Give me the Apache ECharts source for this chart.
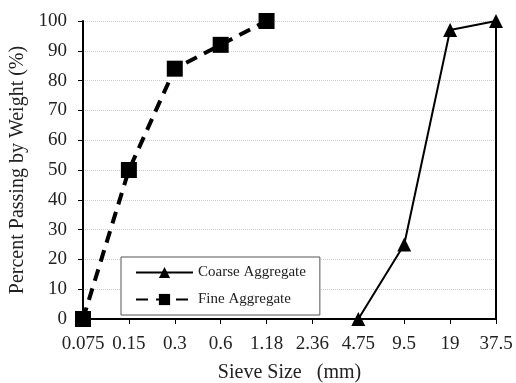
<!DOCTYPE html>
<html><head><meta charset="utf-8">
<script src="https://cdn.jsdelivr.net/npm/echarts@6/dist/echarts.min.js"></script>
<style>html,body{margin:0;padding:0;background:#fff}#c{width:516px;height:383px}</style>
</head><body><div id="c"></div>
<script>
const sieveSizes = ['0.075','0.15','0.3','0.6','1.18','2.36','4.75','9.5','19','37.5'];
const fineAggregate = [0, 50, 84, 92, 100, null, null, null, null, null];
const coarseAggregate = [null, null, null, null, null, null, 0, 25, 97, 100];
const yTicks = [0,10,20,30,40,50,60,70,80,90,100];

const F = 'Liberation Serif';
const chart = echarts.init(document.getElementById('c'), null, {renderer:'canvas'});
chart.setOption({
  animation:false,
  textStyle:{fontFamily:F},
  grid:{left:83, right:20, top:21, bottom:64, show:false, containLabel:false, outerBoundsMode:'none'},
  legend:{
    orient:'vertical', left:121, top:257,
    padding:[8,14,8,14], itemGap:12,
    itemWidth:57, itemHeight:14,
    borderColor:'#555', borderWidth:1, backgroundColor:'#fff', borderRadius:0,
    textStyle:{fontFamily:F, fontSize:15, color:'#222'},
    data:['Coarse Aggregate','Fine Aggregate']
  },
  xAxis:[{
    type:'category', data:sieveSizes, boundaryGap:false,
    name:'Sieve Size   (mm)', nameLocation:'middle', nameGap:44,
    nameTextStyle:{fontFamily:F, fontSize:20, color:'#222'},
    axisLine:{lineStyle:{color:'#000', width:2}},
    axisTick:{show:true, length:5, interval:0, lineStyle:{color:'#000'}},
    axisLabel:{fontFamily:F, fontSize:19, color:'#222', margin:16, interval:0, hideOverlap:false},
    splitLine:{show:false}
  },{
    type:'category', data:sieveSizes, boundaryGap:false, position:'top',
    axisLine:{show:true, lineStyle:{color:'#000', width:2}},
    axisTick:{show:false}, axisLabel:{show:false}, splitLine:{show:false}
  }],
  yAxis:[{
    type:'value', min:0, max:100, interval:10,
    name:'Percent Passing by Weight (%)', nameLocation:'middle', nameGap:55,
    nameTextStyle:{fontFamily:F, fontSize:20, color:'#222'},
    axisLine:{show:true, lineStyle:{color:'#000', width:2}},
    axisTick:{show:true, length:5, lineStyle:{color:'#000'}},
    axisLabel:{fontFamily:F, fontSize:19, color:'#222', margin:16},
    splitLine:{show:true, lineStyle:{color:'#ccc', type:'dotted', width:1}}
  },{
    type:'value', min:0, max:100, interval:10, position:'right',
    axisLine:{show:true, lineStyle:{color:'#000', width:2}},
    axisTick:{show:false}, axisLabel:{show:false}, splitLine:{show:false}
  }],
  series:[
    {name:'Coarse Aggregate', type:'line', data:coarseAggregate, connectNulls:false,
     symbol:'triangle', symbolSize:14, showAllSymbol:true, z:3,
     lineStyle:{color:'#000', width:2}, itemStyle:{color:'#000'}},
    {name:'Fine Aggregate', type:'line', data:fineAggregate,
     symbol:'rect', symbolSize:16, showAllSymbol:true, z:3,
     lineStyle:{color:'#000', width:4, type:[12,8]}, itemStyle:{color:'#000'}}
  ]
});
</script></body></html>
